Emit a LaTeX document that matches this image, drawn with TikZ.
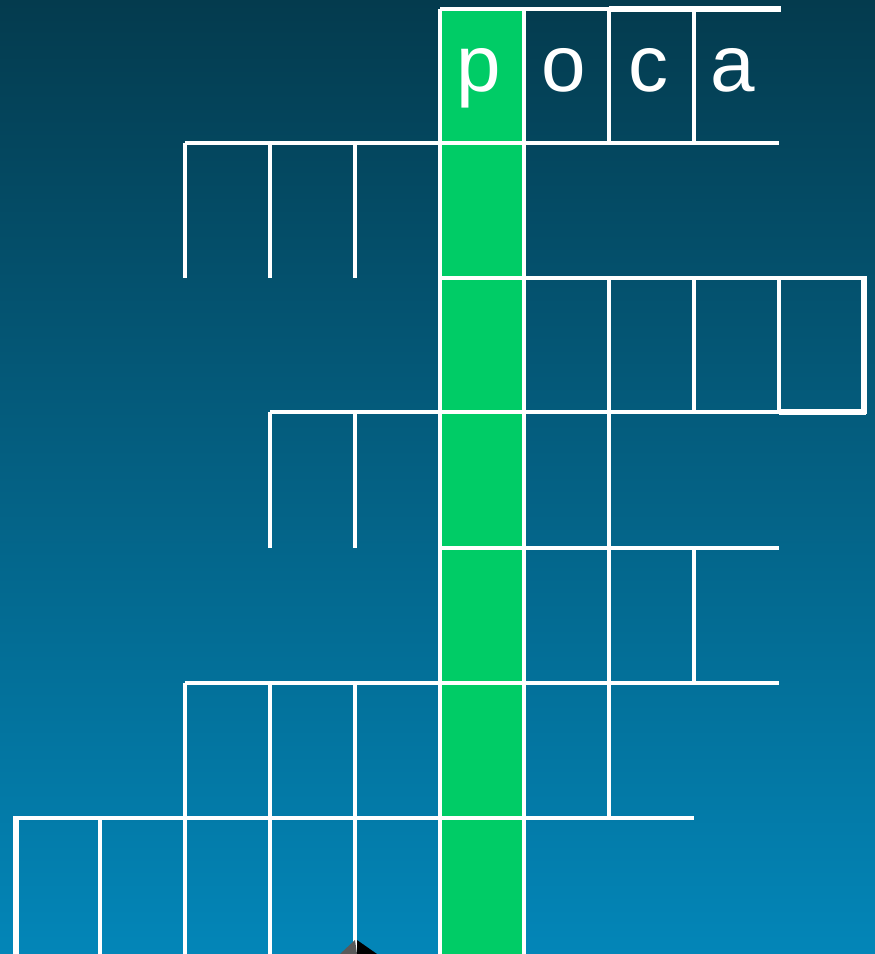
\documentclass[tikz,border=0pt]{standalone}
\usepackage{fontspec}
\setmainfont{Liberation Sans}
\begin{document}
\begin{tikzpicture}[x=0.75pt,y=-0.75pt]

% Define colors
\definecolor{bgtop}{rgb}{0.016, 0.231, 0.306}
\definecolor{bgbottom}{rgb}{0.012, 0.525, 0.722}
\definecolor{answer}{rgb}{0, 0.8, 0.4}

\tikzset{
  gridline/.style={white, line width=2.4pt},
  edgeline/.style={white, line width=4pt},
  letter/.style={text=white, font=\fontsize{60}{66}\selectfont, anchor=base}
}

% Background
\useasboundingbox (0,0) rectangle (875,954);
\shade[top color=bgtop, bottom color=bgbottom] (0,0) rectangle (875,954);

% The answer column
\fill[answer] (440,9) rectangle (524,954);

% Letters of the first row
\node[letter] (p) at (479,91) {p};
\node[letter] (o) at (564,91) {o};
\node[letter] (c) at (648,91) {c};
\node[letter] (a) at (733,91) {a};

% Horizontal lines
\draw[gridline] (440,9) -- (609,9);
\draw[edgeline] (609,9) -- (781,9);
\draw[gridline] (185,143) -- (779,143);
\draw[gridline] (440,278) -- (864,278);
\draw[gridline] (270,412) -- (779,412);
\draw[edgeline] (779,412) -- (866,412);
\draw[gridline] (440,548) -- (779,548);
\draw[gridline] (185,683) -- (779,683);
\draw[gridline] (16,818) -- (694,818);

% Vertical lines
\draw[edgeline] (16,816) -- (16,954);
\draw[gridline] (100,818) -- (100,954);
\draw[gridline] (185,143) -- (185,278);
\draw[gridline] (185,683) -- (185,954);
\draw[gridline] (270,143) -- (270,278);
\draw[gridline] (270,412) -- (270,548);
\draw[gridline] (270,683) -- (270,954);
\draw[gridline] (355,143) -- (355,278);
\draw[gridline] (355,412) -- (355,548);
\draw[gridline] (355,683) -- (355,954);
\draw[gridline] (440,9) -- (440,954);
\draw[gridline] (524,9) -- (524,954);
\draw[gridline] (609,9) -- (609,143);
\draw[gridline] (609,278) -- (609,818);
\draw[gridline] (694,9) -- (694,143);
\draw[gridline] (694,278) -- (694,412);
\draw[gridline] (694,548) -- (694,683);
\draw[gridline] (779,278) -- (779,412);
\draw[edgeline] (864,276) -- (864,414);

% Tip at the bottom edge
\fill[gray!70!black] (340,954) -- (355,940) -- (357,954) -- cycle;
\fill[black] (357,940) -- (377,954) -- (357,954) -- cycle;

\end{tikzpicture}
\end{document}
